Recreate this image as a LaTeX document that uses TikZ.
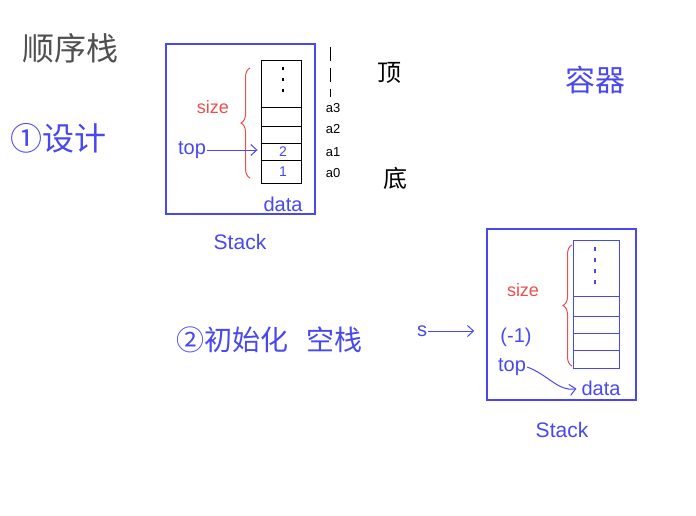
\documentclass[tikz,border=0pt]{standalone}
\usepackage{fontspec}
\setmainfont{Liberation Sans}
\newfontfamily\cjk{Noto Sans CJK SC}
\usepackage{tikz}
\usetikzlibrary{arrows.meta,positioning,calc,decorations.pathreplacing}

\definecolor{penblue}{RGB}{72,72,238}
\definecolor{penred}{RGB}{236,78,78}
\definecolor{pengray}{RGB}{80,80,80}

\begin{document}
\begin{tikzpicture}[
    x=1pt, y=-1pt,
    frame/.style={rectangle, draw=penblue, line width=1.6pt, inner sep=0pt},
    arraybox/.style={rectangle, line width=0.9pt, inner sep=0pt},
    hand/.style={text=penblue, font=\fontsize{20}{20}\selectfont, inner sep=1pt},
    small/.style={text=penblue, font=\fontsize{14}{14}\selectfont, inner sep=1pt},
    redtxt/.style={text=penred, font=\fontsize{18}{18}\selectfont, inner sep=1pt},
    note/.style={text=black, font=\fontsize{13}{13}\selectfont, inner sep=1pt},
    zh/.style={font=\cjk\fontsize{28}{28}\selectfont, inner sep=0pt},
    brace/.style={decorate, decoration={brace, amplitude=9pt}, draw=penred, line width=1pt},
    arrow/.style={-{Straight Barb[length=6pt, width=11pt]}, draw=penblue, line width=1pt}
]
\useasboundingbox (0,0) rectangle (696,515);

% Titles
\node[zh, text=pengray, font=\cjk\fontsize{32}{32}\selectfont] (title) at (70,48) {顺序栈};
\node[zh, text=penblue, font=\cjk\fontsize{32}{32}\selectfont, anchor=west] (design) at (10,138) {①设计};
\node[zh, text=penblue, font=\cjk\fontsize{30}{30}\selectfont] (container) at (595,80) {容器};

% Stack 1
\node[frame, minimum width=149pt, minimum height=170pt] (stack1) at (240.5,129) {};
\node[arraybox, draw=black, minimum width=40pt, minimum height=123pt] (data1) at (281,121.5) {};
\foreach \y in {107,126,143,160}
    \draw[black, line width=0.9pt] (data1.west |- 0,\y) -- (data1.east |- 0,\y);
\draw[black, line width=1.2pt, dash pattern=on 3pt off 8pt] (283,67) -- (283,97);
\node[small] (cell2) at (283,152) {2};
\node[small] (cell1) at (283,172) {1};
\draw[brace] (250,178) -- (250,68);
\node[redtxt] (size1) at (213,107) {size};
\node[hand] (top1) at (192,150) {top};
\draw[arrow, shorten >=3pt] (top1.east) -- (top1 -| data1.west);
\node[hand] (datalbl1) at (283,204) {data};
\node[hand, font=\fontsize{21}{21}\selectfont] (name1) at (240,242) {Stack};

% Elements
\draw[black, line width=0.9pt, dash pattern=on 14pt off 7pt] (330,47) -- (330,97);
\node[note] (a3) at (333,108) {a3};
\node[note] (a2) at (333,129) {a2};
\node[note] (a1) at (333,152) {a1};
\node[note] (a0) at (333,173) {a0};
\node[zh, text=black, font=\cjk\fontsize{24}{24}\selectfont] (ding) at (389,73) {顶};
\node[zh, text=black, font=\cjk\fontsize{24}{24}\selectfont] (di) at (395,178) {底};

% Init
\node[zh, text=penblue, font=\cjk\fontsize{28}{28}\selectfont, anchor=west] (init) at (176,340) {②初始化\hspace{18pt}空栈};
\node[hand] (s) at (422,331) {s};

% Stack 2
\node[frame, minimum width=149pt, minimum height=171pt] (stack2) at (561.5,314.5) {};
\node[arraybox, draw=penblue, minimum width=46pt, minimum height=128pt] (data2) at (596,304) {};
\foreach \y in {296,316,333,350}
    \draw[penblue, line width=0.9pt] (data2.west |- 0,\y) -- (data2.east |- 0,\y);
\draw[penblue, line width=1.2pt, dash pattern=on 4pt off 7pt] (595,247) -- (595,289);
\draw[brace] (572,366) -- (572,245);
\node[redtxt] (size2) at (523,290) {size};
\node[hand] (minus) at (516,337) {(-1)};
\node[hand] (top2) at (512,367) {top};
\node[hand] (datalbl2) at (601,388) {data};
\node[hand, font=\fontsize{21}{21}\selectfont] (name2) at (562,430) {Stack};

\draw[arrow, shorten >=12pt] (s.east) -- (s -| stack2.west);
\draw[arrow, shorten >=4pt] (top2.east) to[out=-20, in=190] (datalbl2.west);

\end{tikzpicture}
\end{document}
